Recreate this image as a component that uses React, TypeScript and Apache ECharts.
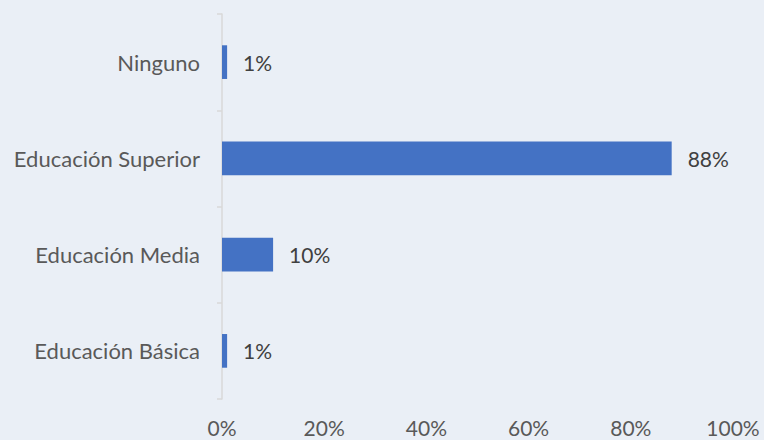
import React, { useEffect, useRef } from "react";
import * as echarts from "echarts";

const categories = ["Educación Básica", "Educación Media", "Educación Superior", "Ninguno"];
const values = [1, 10, 88, 1];
const xTicks = [0, 20, 40, 60, 80, 100];

export default function App() {
  const ref = useRef<HTMLDivElement>(null);
  useEffect(() => {
    document.body.style.margin = "0";
    const chart = echarts.init(ref.current!, null, { renderer: "svg" });
    chart.setOption({
      animation: false,
      backgroundColor: "#EAEFF6",
      textStyle: { fontFamily: "Lato" },
      grid: { left: 222, right: 31, top: 14, bottom: 41 },
      xAxis: {
        type: "value",
        min: xTicks[0],
        max: xTicks[xTicks.length - 1],
        interval: 20,
        splitLine: { show: false },
        axisLine: { show: false },
        axisTick: { show: false },
        axisLabel: {
          formatter: (v: number) => v + "%",
          color: "#595959",
          fontSize: 21,
          margin: 18,
        },
      },
      yAxis: {
        type: "category",
        data: categories,
        axisLine: { show: true, lineStyle: { color: "#D9D9D9", width: 1.5 } },
        axisTick: { show: true, length: 5, lineStyle: { color: "#D9D9D9", width: 1.5 } },
        axisLabel: { color: "#595959", fontSize: 22, margin: 22 },
      },
      series: [
        {
          type: "bar",
          data: values,
          barWidth: "35%",
          itemStyle: { color: "#4472C4" },
          label: {
            show: true,
            position: "right",
            distance: 16,
            formatter: (p: any) => p.value + "%",
            color: "#404040",
            fontSize: 21,
          },
        },
      ],
    });
    return () => chart.dispose();
  }, []);
  return <div ref={ref} style={{ width: 764, height: 440 }} />;
}
